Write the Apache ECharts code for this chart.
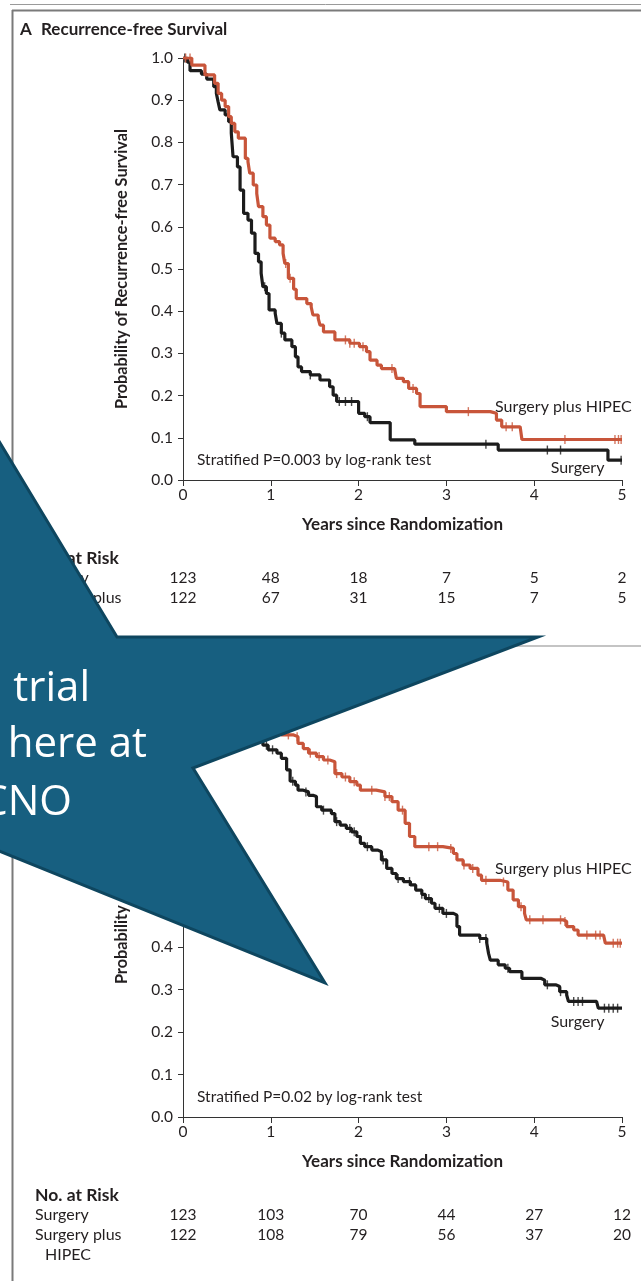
<!DOCTYPE html>
<html><head><meta charset="utf-8">
<script src="https://cdn.jsdelivr.net/npm/echarts@6/dist/echarts.min.js"></script>
<style>html,body{margin:0;padding:0;background:#fff}#c{width:641px;height:1281px}</style>
</head><body><div id="c"></div><script>
// ---------- data ----------
const yearTicks = [0, 1, 2, 3, 4, 5];
const seriesNames = ['Surgery', 'Surgery plus HIPEC'];

// Panel A: Recurrence-free survival (time in years, survival probability)
const rfsSurgery = [[0,1.0],[0.05,0.99],[0.08,0.97],[0.21,0.962],[0.27,0.95],[0.35,0.932],[0.38,0.916],[0.40,0.896],[0.42,0.877],[0.48,0.865],[0.52,0.849],[0.55,0.822],[0.57,0.766],[0.62,0.742],[0.65,0.687],[0.69,0.632],[0.74,0.616],[0.78,0.585],[0.82,0.537],[0.86,0.517],[0.89,0.49],[0.91,0.458],[0.95,0.442],[0.98,0.403],[1.05,0.395],[1.07,0.371],[1.12,0.348],[1.16,0.332],[1.24,0.316],[1.28,0.292],[1.31,0.268],[1.35,0.257],[1.45,0.249],[1.56,0.237],[1.67,0.221],[1.71,0.201],[1.75,0.186],[2.0,0.158],[2.07,0.150],[2.13,0.136],[2.36,0.095],[2.64,0.085],[3.59,0.071],[4.84,0.047],[5.0,0.047]];
const rfsHipec = [[0,1.0],[0.10,0.983],[0.25,0.96],[0.36,0.94],[0.40,0.916],[0.44,0.90],[0.48,0.885],[0.52,0.861],[0.55,0.845],[0.59,0.825],[0.63,0.81],[0.71,0.762],[0.74,0.754],[0.76,0.727],[0.80,0.699],[0.84,0.679],[0.86,0.648],[0.91,0.624],[0.95,0.604],[0.99,0.573],[1.05,0.565],[1.10,0.557],[1.14,0.537],[1.16,0.513],[1.20,0.478],[1.26,0.452],[1.29,0.43],[1.41,0.418],[1.46,0.41],[1.48,0.391],[1.54,0.383],[1.56,0.367],[1.60,0.351],[1.73,0.332],[1.90,0.324],[2.01,0.316],[2.09,0.304],[2.13,0.284],[2.21,0.272],[2.26,0.264],[2.41,0.26],[2.43,0.241],[2.51,0.233],[2.57,0.217],[2.66,0.205],[2.70,0.174],[3.0,0.162],[3.5,0.158],[3.57,0.142],[3.63,0.126],[3.84,0.122],[3.86,0.096],[5.0,0.096]];
const rfsSurgeryCensor = [0.02, 0.93, 1.12, 1.45, 1.78, 1.85, 1.92, 2.1, 3.45, 4.15, 4.3, 4.99];
const rfsHipecCensor = [0.03, 0.08, 0.84, 1.17, 1.22, 1.85, 1.9, 1.95, 2.05, 2.38, 2.62, 3.25, 3.68, 3.75, 4.35, 4.92, 4.96, 4.99];

// Panel B: Overall survival
const osSurgery = [[0,1.0],[0.1,0.992],[0.2,0.98],[0.3,0.967],[0.42,0.955],[0.55,0.94],[0.65,0.925],[0.75,0.905],[0.83,0.89],[0.91,0.875],[0.97,0.864],[1.07,0.856],[1.12,0.844],[1.18,0.817],[1.22,0.79],[1.28,0.781],[1.31,0.769],[1.37,0.765],[1.43,0.757],[1.48,0.754],[1.52,0.73],[1.58,0.722],[1.69,0.714],[1.73,0.695],[1.79,0.687],[1.86,0.679],[1.92,0.671],[1.98,0.66],[2.02,0.644],[2.07,0.636],[2.15,0.628],[2.22,0.624],[2.26,0.605],[2.32,0.585],[2.38,0.573],[2.43,0.561],[2.51,0.554],[2.59,0.546],[2.65,0.534],[2.72,0.524],[2.76,0.514],[2.83,0.503],[2.87,0.491],[2.96,0.479],[3.08,0.475],[3.12,0.448],[3.15,0.428],[3.38,0.42],[3.46,0.409],[3.48,0.385],[3.50,0.369],[3.59,0.358],[3.67,0.35],[3.72,0.342],[3.86,0.326],[4.08,0.322],[4.12,0.311],[4.25,0.307],[4.29,0.295],[4.37,0.287],[4.39,0.272],[4.71,0.268],[4.73,0.256],[5.0,0.256]];
const osHipec = [[0,1.0],[0.12,0.992],[0.25,0.984],[0.4,0.975],[0.55,0.967],[0.7,0.955],[0.85,0.935],[0.98,0.915],[1.05,0.905],[1.12,0.899],[1.26,0.895],[1.31,0.879],[1.37,0.867],[1.43,0.856],[1.52,0.848],[1.60,0.84],[1.67,0.836],[1.73,0.808],[1.81,0.80],[1.90,0.789],[1.98,0.781],[2.02,0.769],[2.2,0.765],[2.30,0.754],[2.38,0.742],[2.45,0.722],[2.53,0.691],[2.58,0.66],[2.64,0.636],[2.96,0.632],[3.08,0.62],[3.12,0.605],[3.19,0.593],[3.27,0.585],[3.36,0.569],[3.40,0.557],[3.61,0.553],[3.70,0.534],[3.76,0.511],[3.82,0.495],[3.89,0.479],[3.91,0.464],[4.33,0.46],[4.37,0.448],[4.45,0.44],[4.50,0.428],[4.79,0.424],[4.81,0.409],[5.0,0.409]];
const osSurgeryCensor = [0.95, 1.02, 1.25, 1.4, 1.6, 1.75, 1.9, 1.95, 2.1, 2.28, 2.45, 2.58, 2.72, 2.8, 2.92, 3.0, 3.38, 3.45, 3.7, 4.15, 4.3, 4.45, 4.5, 4.55, 4.8, 4.85, 4.9, 4.95];
const osHipecCensor = [1.2, 1.3, 1.45, 1.55, 1.65, 1.75, 1.85, 1.95, 2.15, 2.3, 2.35, 2.5, 2.8, 2.9, 3.05, 3.2, 3.3, 3.45, 3.65, 3.85, 3.95, 4.1, 4.3, 4.35, 4.6, 4.7, 4.75, 4.9, 4.95, 4.98];

const riskA_Surgery = [123, 48, 18, 7, 5, 2];
const riskA_Hipec = [122, 67, 31, 15, 7, 5];
const riskB_Surgery = [123, 103, 70, 44, 27, 12];
const riskB_Hipec = [122, 108, 79, 56, 37, 20];

// ---------- styling ----------
const FONT = 'Lato, "Open Sans", sans-serif';
const TXT = '#231f20';
const BLACK = '#1c1c1c';
const ORANGE = '#c8553a';

function stepAt(curve, t) {
  let v = curve[0][1];
  for (const [x, y] of curve) { if (x <= t) v = y; else break; }
  return v;
}

function xAxisCfg(g) {
  return {
    type: 'value', gridIndex: g, min: 0, max: 5, interval: 1,
    axisLine: { show: true, onZero: false, lineStyle: { color: '#333', width: 1 } },
    axisTick: { show: true, length: 6, lineStyle: { color: '#333' } },
    axisLabel: { color: TXT, fontSize: 15.5, fontFamily: FONT, margin: 7 },
    splitLine: { show: false },
    name: 'Years since Randomization', nameLocation: 'middle', nameGap: 36,
    nameTextStyle: { fontWeight: 'bold', fontSize: 17, color: TXT, fontFamily: FONT }
  };
}
function yAxisCfg(g, name) {
  return {
    type: 'value', gridIndex: g, min: 0, max: 1, interval: 0.1,
    axisLine: { show: true, lineStyle: { color: '#333', width: 1 } },
    axisTick: { show: true, length: 5, lineStyle: { color: '#333' } },
    axisLabel: { color: TXT, fontSize: 15.5, fontFamily: FONT, margin: 10, formatter: v => v.toFixed(1) },
    splitLine: { show: false },
    name: name, nameLocation: 'middle', nameGap: 53, nameRotate: 90,
    nameTextStyle: { fontWeight: 'bold', fontSize: 16.3, color: TXT, fontFamily: FONT }
  };
}
function lineSeries(g, data, color, name) {
  return { type: 'line', name, xAxisIndex: g, yAxisIndex: g, step: 'end', symbol: 'none', showSymbol: false,
    lineStyle: { width: 3.2, color }, data, animation: false, z: color === ORANGE ? 4 : 3 };
}
function censorSeries(g, curve, times, color) {
  return { type: 'scatter', xAxisIndex: g, yAxisIndex: g, symbol: 'rect', symbolSize: [1.4, 9],
    itemStyle: { color }, data: times.map(t => [t, stepAt(curve, t)]), animation: false,
    z: color === ORANGE ? 4 : 3, silent: true };
}

const chart = echarts.init(document.getElementById('c'), null, { renderer: 'canvas' });
chart.setOption({
  backgroundColor: '#ffffff',
  animation: false,
  grid: [
    { left: 183, top: 58, width: 439, height: 422 },
    { left: 183, top: 692, width: 439, height: 425 }
  ],
  xAxis: [xAxisCfg(0), xAxisCfg(1)],
  yAxis: [yAxisCfg(0, 'Probability of Recurrence-free Survival'), yAxisCfg(1, 'Probability of Survival')],
  series: [
    lineSeries(0, rfsSurgery, BLACK, seriesNames[0]),
    censorSeries(0, rfsSurgery, rfsSurgeryCensor, BLACK),
    lineSeries(0, rfsHipec, ORANGE, seriesNames[1]),
    censorSeries(0, rfsHipec, rfsHipecCensor, ORANGE),
    lineSeries(1, osSurgery, BLACK, seriesNames[0]),
    censorSeries(1, osSurgery, osSurgeryCensor, BLACK),
    lineSeries(1, osHipec, ORANGE, seriesNames[1]),
    censorSeries(1, osHipec, osHipecCensor, ORANGE)
  ]
});

function txt(text, x, y, opts) {
  opts = opts || {};
  const font = (opts.bold ? 'bold ' : '') + (opts.size || 14) + 'px ' + (opts.family || FONT);
  const align = opts.align || 'left';
  return { type: 'text', x, y, z: opts.z || 10, silent: true,
    style: { text, font, fill: opts.color || TXT, textAlign: align, align: align,
      textVerticalAlign: 'middle', verticalAlign: 'middle' } };
}

const g = [];
// frame lines
g.push({ type: 'line', shape: { x1: 10, y1: 4.5, x2: 641, y2: 4.5 }, style: { stroke: '#9a9a9a', lineWidth: 1 }, z: 1 });
g.push({ type: 'line', shape: { x1: 12, y1: 10.5, x2: 641, y2: 10.5 }, style: { stroke: '#7a7a7a', lineWidth: 2 }, z: 1 });
g.push({ type: 'line', shape: { x1: 12.5, y1: 10, x2: 12.5, y2: 1281 }, style: { stroke: '#7a7a7a', lineWidth: 2 }, z: 1 });
g.push({ type: 'line', shape: { x1: 12, y1: 646, x2: 641, y2: 646 }, style: { stroke: '#c4c4c4', lineWidth: 2 }, z: 1 });

// titles
g.push(txt('A', 20, 30, { bold: true, size: 17 }));
g.push(txt('Recurrence-free Survival', 41, 30, { bold: true, size: 17 }));
g.push(txt('B', 20, 664, { bold: true, size: 17 }));
g.push(txt('Overall Survival', 41, 664, { bold: true, size: 17 }));

// annotations in plot coordinates
function px(gi, t, s) { return chart.convertToPixel({ gridIndex: gi }, [t, s]); }
let p;
p = px(0, 0.16, 0.047); g.push(txt('Stratified P=0.003 by log-rank test', p[0], p[1], { size: 15.5 }));
p = px(0, 5.11, 0.173); g.push(txt('Surgery plus HIPEC', p[0], p[1], { size: 16, align: 'right' }));
p = px(0, 4.8, 0.029); g.push(txt('Surgery', p[0], p[1], { size: 16, align: 'right' }));
p = px(1, 0.16, 0.047); g.push(txt('Stratified P=0.02 by log-rank test', p[0], p[1], { size: 15.5 }));
p = px(1, 5.11, 0.585); g.push(txt('Surgery plus HIPEC', p[0], p[1], { size: 16, align: 'right' }));
p = px(1, 4.8, 0.223); g.push(txt('Surgery', p[0], p[1], { size: 16, align: 'right' }));

// risk tables
function riskTable(gi, yTop, surg, hip) {
  g.push(txt('No. at Risk', 35, yTop, { bold: true, size: 17.5 }));
  g.push(txt('Surgery', 35, yTop + 20, { size: 16 }));
  g.push(txt('Surgery plus', 35, yTop + 40, { size: 16 }));
  g.push(txt('HIPEC', 45, yTop + 60, { size: 16 }));
  yearTicks.forEach((t, i) => {
    const x = chart.convertToPixel({ xAxisIndex: gi }, t);
    g.push(txt(String(surg[i]), x, yTop + 20, { size: 15.5, align: 'center' }));
    g.push(txt(String(hip[i]), x, yTop + 40, { size: 15.5, align: 'center' }));
  });
}
riskTable(0, 558, riskA_Surgery, riskA_Hipec);
riskTable(1, 1195, riskB_Surgery, riskB_Hipec);

// overlay star callout
g.push({ type: 'polygon', z: 100, silent: true,
  shape: { points: [[-150, 194], [117, 637], [538, 637], [193, 768], [325, 983], [-60, 827], [-300, 830], [-300, 194]] },
  style: { fill: '#175f80', stroke: '#0e465f', lineWidth: 3, lineJoin: 'miter' } });
const STARFONT = '"Open Sans", Roboto, sans-serif';
g.push(txt('trial', 90, 689, { size: 42, color: '#ffffff', align: 'right', z: 101, family: STARFONT }));
g.push(txt('here at', 147, 745, { size: 42, color: '#ffffff', align: 'right', z: 101, family: STARFONT }));
g.push(txt('CNO', 72, 803, { size: 42, color: '#ffffff', align: 'right', z: 101, family: STARFONT }));

chart.setOption({ graphic: { elements: g } });
</script></body></html>
